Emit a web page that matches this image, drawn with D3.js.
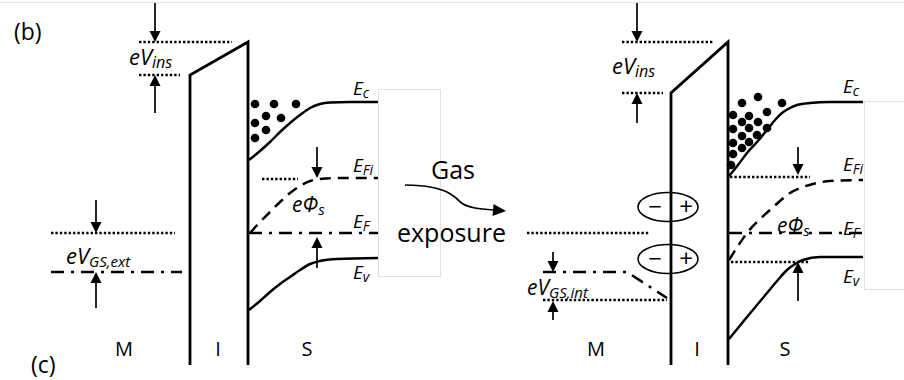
<!DOCTYPE html>
<html>
<head>
<meta charset="utf-8">
<script src="https://cdn.jsdelivr.net/npm/d3@7"></script>
<style>
  body { margin: 0; background: #fff; }
  svg { display: block; }
  text { font-family: "Open Sans", "Noto Sans", sans-serif; fill: #000; }
</style>
</head>
<body>
<script>
// Energy-band diagrams of a metal / insulator / semiconductor gas sensor,
// before (b) and after (c) exposure to gas.
// Every point is [position along the stack, energy]; energy grows upwards.

// ---- layer labels ----
const layerNames = ["M", "I", "S"];
const layerPosBefore = [124, 218, 307];
const layerPosAfter = [596, 697, 785];

// ---- insulator outlines: [x, E] (left wall, sloped top, right wall) ----
const insulatorBefore = [[190, 1.5], [190, 30.5], [248, 33.8], [248, 1.5]];
const insulatorAfter = [[671, 1.5], [671, 28.7], [728, 33.8], [728, 1.5]];

// ---- semiconductor bands before exposure ----
const ecBefore = [[249, 22.0], [260, 22.9], [270, 23.8], [280, 24.8], [290, 25.7], [300, 26.5],
  [310, 27.2], [320, 27.6], [330, 27.75], [350, 27.8], [378, 27.8]];
const efiBefore = [[250, 14.7], [260, 15.8], [270, 16.8], [280, 17.8], [290, 18.7], [300, 19.4],
  [310, 19.9], [320, 20.1], [340, 20.2], [378, 20.2]];
const evBefore = [[249, 7.0], [260, 7.9], [270, 8.8], [280, 9.6], [290, 10.3], [300, 11.0],
  [310, 11.6], [320, 11.9], [337, 12.1], [378, 12.2]];

// ---- semiconductor bands after exposure ----
const ecAfter = [[729, 20.4], [738, 21.5], [747, 22.7], [757, 23.8], [767, 25.0], [775, 26.0],
  [782, 26.7], [790, 27.2], [797, 27.5], [810, 27.7], [830, 27.8], [863, 27.8]];
const efiAfter = [[729, 12.0], [738, 13.4], [747, 14.7], [758, 15.9], [770, 17.0], [780, 17.9],
  [790, 18.7], [800, 19.2], [813, 19.6], [830, 19.9], [863, 20.0]];
const evAfter = [[729, 4.1], [738, 5.2], [747, 6.3], [757, 7.5], [767, 8.7], [777, 9.9],
  [787, 11.0], [795, 11.6], [803, 12.0], [820, 12.3], [863, 12.3]];

// ---- flat reference levels: [x1, x2, E] ----
const dottedBefore = [[139, 232, 33.8], [139, 180, 30.5], [262, 298, 20.1], [51, 175, 14.7]];
const dottedAfter = [[622, 713, 33.8], [622, 663, 28.7], [730, 810, 20.3], [731, 808, 11.8],
  [527, 650, 14.7], [543, 667, 8.0]];
// Fermi levels (dash-dot) as polylines
const fermiBefore = [[[249, 14.7], [378, 14.7]], [[51, 10.8], [182, 10.8]]];
const fermiAfter = [[[729, 14.7], [863, 14.7]], [[543, 10.8], [627, 10.8], [667, 8.2]]];

// ---- vertical arrows: [x, E from, E tip] ----
const arrowsBefore = [[155, 37.7, 33.8], [155, 26.7, 30.5], [317, 23.3, 20.2], [317, 11.2, 14.3],
  [96, 18.0, 14.7], [96, 7.2, 10.8]];
const arrowsAfter = [[637, 37.7, 33.8], [637, 25.7, 28.7], [798, 23.3, 20.5], [798, 7.9, 11.8],
  [553, 12.8, 10.8], [553, 6.0, 7.9]];

// ---- electrons accumulated at the semiconductor surface: [x, E] ----
const electronsBefore = [[255, 27.6], [274, 27.6], [296, 27.6], [266, 26.4], [281, 26.2],
  [255, 25.7], [266, 25.0], [255, 24.2]];
const electronsAfter = [[758, 28.3], [742, 27.7], [782, 27.7], [733, 26.5], [749, 26.4], [767, 26.8],
  [742, 25.8], [758, 25.8], [733, 25.1], [749, 25.2], [767, 25.2], [742, 24.4], [757, 24.5],
  [733, 23.7], [749, 23.8], [742, 23.2], [733, 22.6], [731, 21.5]];

// ---- dipoles at the metal/insulator interface: [x, E] ----
const dipoles = [[668, 17.3], [668, 12.1]];

// ---- curved "gas exposure" arrow: [x, E] ----
const gasArrow = [[405, 19.5], [430, 19.3], [447, 18.8], [456, 18.2], [463, 17.6], [475, 17.2],
  [494, 17.0], [506, 16.9]];

const W = 904, H = 380;
const x = d3.scaleLinear().domain([0, 904]).range([0, W]);
const y = d3.scaleLinear().domain([0, 38]).range([H, 0]);

const svg = d3.select("body").append("svg").attr("width", W).attr("height", H);

// thin frame line across the top
svg.append("line").attr("x1", 0).attr("x2", W).attr("y1", y(37.7) - 0.5).attr("y2", y(37.7) - 0.5)
  .attr("stroke", "#e2e2e2").attr("stroke-width", 1);

const line = d3.line().x(d => x(d[0])).y(d => y(d[1]));
const smooth = d3.line().x(d => x(d[0])).y(d => y(d[1])).curve(d3.curveMonotoneX);

const g = svg.append("g");

function drawPanel(ins, bands, dotted, fermi, arrows, electrons) {
  g.append("path").attr("d", line(ins)).attr("fill", "none")
    .attr("stroke", "#000").attr("stroke-width", 2.8).attr("stroke-linejoin", "miter");

  g.selectAll(null).data(electrons).join("circle")
    .attr("cx", d => x(d[0])).attr("cy", d => y(d[1])).attr("r", 4.3).attr("fill", "#000");

  // Ec and Ev solid, Ei dashed
  g.append("path").attr("d", smooth(bands[0])).attr("fill", "none")
    .attr("stroke", "#000").attr("stroke-width", 2.5);
  g.append("path").attr("d", smooth(bands[2])).attr("fill", "none")
    .attr("stroke", "#000").attr("stroke-width", 2.5);
  g.append("path").attr("d", smooth(bands[1])).attr("fill", "none")
    .attr("stroke", "#000").attr("stroke-width", 2.5).attr("stroke-dasharray", "11,7");

  g.selectAll(null).data(dotted).join("line")
    .attr("x1", d => x(d[0])).attr("x2", d => x(d[1]))
    .attr("y1", d => y(d[2])).attr("y2", d => y(d[2]))
    .attr("stroke", "#000").attr("stroke-width", 2.6).attr("stroke-dasharray", "2.4,2");

  g.selectAll(null).data(fermi).join("path")
    .attr("d", d => line(d)).attr("fill", "none")
    .attr("stroke", "#000").attr("stroke-width", 2.5).attr("stroke-dasharray", "13,7,3,7");

  arrows.forEach(a => {
    const x0 = x(a[0]), yFrom = y(a[1]), yTip = y(a[2]);
    const dir = yTip > yFrom ? 1 : -1;
    const hl = 11, hw = 5.5;
    g.append("line").attr("x1", x0).attr("x2", x0).attr("y1", yFrom).attr("y2", yTip - dir * hl)
      .attr("stroke", "#000").attr("stroke-width", 1.7);
    g.append("path")
      .attr("d", `M${x0},${yTip}L${x0 - hw},${yTip - dir * hl}L${x0 + hw},${yTip - dir * hl}Z`)
      .attr("fill", "#000");
  });
}

drawPanel(insulatorBefore, [ecBefore, efiBefore, evBefore], dottedBefore, fermiBefore, arrowsBefore, electronsBefore);
drawPanel(insulatorAfter, [ecAfter, efiAfter, evAfter], dottedAfter, fermiAfter, arrowsAfter, electronsAfter);

// dipoles (− +)
dipoles.forEach(d => {
  const cx = x(d[0]), cy = y(d[1]);
  g.append("ellipse").attr("cx", cx).attr("cy", cy).attr("rx", 30).attr("ry", 14.5)
    .attr("fill", "none").attr("stroke", "#000").attr("stroke-width", 1.6);
  g.append("text").attr("x", cx - 13).attr("y", cy + 8).attr("text-anchor", "middle")
    .attr("font-size", 24).text("\u2212");
  g.append("text").attr("x", cx + 18).attr("y", cy + 8).attr("text-anchor", "middle")
    .attr("font-size", 24).text("+");
});

// ---- text labels ----
function label(px, base, main, sub, size, subSize) {
  const t = g.append("text").attr("x", px).attr("y", base)
    .attr("font-style", "italic").attr("font-size", size);
  t.append("tspan").text(main);
  if (sub) t.append("tspan").attr("font-size", subSize).attr("dy", 3).text(sub);
}

// before
label(129, 65, "eV", "ins", 22, 16);
label(66, 264, "eV", "GS,ext", 22, 15);
label(353, 95, "E", "c", 19, 14);
label(353, 172, "E", "Fi", 19, 14);
label(292, 212, "e\u03A6", "s", 21, 15);
label(353, 228, "E", "F", 19, 14);
label(353, 279, "E", "v", 19, 14);
// after
label(612, 74, "eV", "ins", 22, 16);
label(527, 295, "eV", "GS,int", 21, 15);
label(843, 93, "E", "c", 19, 14);
label(843, 171, "E", "Fi", 19, 14);
label(777, 233, "e\u03A6", "s", 21, 15);
label(843, 235, "E", "F", 19, 14);
label(843, 283, "E", "v", 19, 14);

[layerPosBefore, layerPosAfter].forEach(pos => {
  g.selectAll(null).data(layerNames).join("text")
    .attr("x", (d, i) => x(pos[i])).attr("y", 356).attr("text-anchor", "middle")
    .attr("font-size", 20).text(d => d);
});

g.append("text").attr("x", 14).attr("y", 40).attr("font-size", 23).text("(b)");
g.append("text").attr("x", 31).attr("y", 373).attr("font-size", 23).text("(c)");

// white boxes with a faint outline (clip the right-hand labels)
g.append("rect").attr("x", 378.5).attr("y", 89.5).attr("width", 62).attr("height", 187)
  .attr("fill", "#fff").attr("stroke", "#e0e0e0").attr("stroke-width", 1);
g.append("rect").attr("x", 864.5).attr("y", 101.5).attr("width", 60).attr("height", 188)
  .attr("fill", "#fff").attr("stroke", "#e0e0e0").attr("stroke-width", 1);

// gas exposure annotation
g.append("text").attr("x", 431).attr("y", 179).attr("font-size", 25).text("Gas");
g.append("text").attr("x", 397).attr("y", 242).attr("font-size", 25).text("exposure");
const ga = gasArrow.slice(0, -1);
const tip = gasArrow[gasArrow.length - 1];
g.append("path").attr("d", d3.line().x(d => x(d[0])).y(d => y(d[1])).curve(d3.curveCatmullRom)(ga))
  .attr("fill", "none").attr("stroke", "#000").attr("stroke-width", 1.7);
{
  const p = ga[ga.length - 1];
  const tx = x(tip[0]), ty = y(tip[1]), px0 = x(p[0]), py0 = y(p[1]);
  const ang = Math.atan2(ty - py0, tx - px0);
  const hl = 13, hw = 6;
  const bx = tx - hl * Math.cos(ang), by = ty - hl * Math.sin(ang);
  const nx = -Math.sin(ang) * hw, ny = Math.cos(ang) * hw;
  g.append("path").attr("d", `M${tx},${ty}L${bx + nx},${by + ny}L${bx - nx},${by - ny}Z`).attr("fill", "#000");
}
</script>
</body>
</html>
